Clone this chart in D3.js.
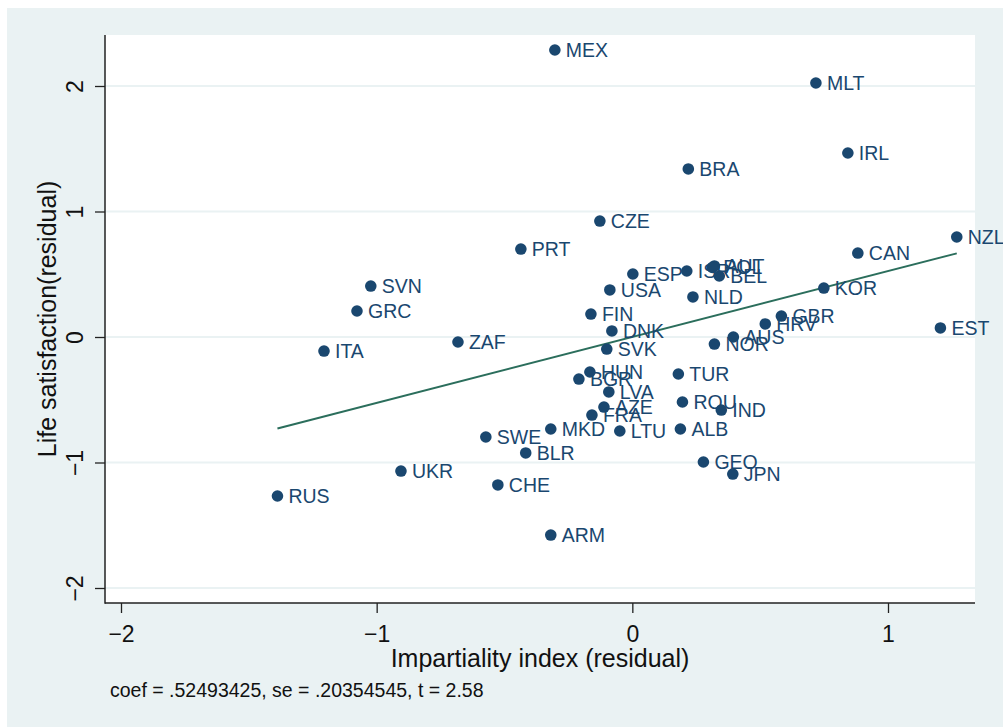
<!DOCTYPE html>
<html>
<head>
<meta charset="utf-8">
<script src="https://cdn.jsdelivr.net/npm/d3@7"></script>
<style>
  html, body { margin: 0; padding: 0; background: #ffffff; }
  svg { display: block; }
  text { font-family: "Liberation Sans", Arial, Helvetica, sans-serif; }
</style>
</head>
<body>
<svg id="chart" width="1003" height="727"></svg>
<script>
const countries = ["MEX","MLT","IRL","BRA","CZE","PRT","CAN","NZL","ESP","ISR","AUT","POL","BEL",
  "SVN","GRC","USA","NLD","KOR","FIN","GBR","HRV","AUS","NOR","DNK","EST","ZAF","ITA","SVK",
  "HUN","BGR","TUR","LVA","ROU","IND","AZE","FRA","MKD","LTU","ALB","SWE","BLR","UKR","CHE",
  "GEO","JPN","RUS","ARM"];
const impartiality = [-0.303, 0.718, 0.843, 0.219, -0.127, -0.436, 0.882, 1.269, 0.002, 0.213, 0.321, 0.313, 0.340,
  -1.023, -1.077, -0.088, 0.237, 0.749, -0.162, 0.583, 0.520, 0.395, 0.321, -0.080, 1.205, -0.682, -1.206, -0.100,
  -0.166, -0.209, 0.180, -0.092, 0.196, 0.348, -0.111, -0.158, -0.319, -0.049, 0.188, -0.573, -0.417, -0.905, -0.526,
  0.278, 0.393, -1.388, -0.319];
const lifeSatisfaction = [2.287, 2.024, 1.466, 1.339, 0.924, 0.701, 0.669, 0.797, 0.502, 0.526, 0.566, 0.554, 0.486,
  0.406, 0.207, 0.375, 0.319, 0.390, 0.183, 0.167, 0.104, 0.000, -0.056, 0.048, 0.072, -0.040, -0.112, -0.096,
  -0.279, -0.335, -0.295, -0.438, -0.518, -0.582, -0.558, -0.622, -0.733, -0.749, -0.733, -0.797, -0.924, -1.068, -1.179,
  -0.996, -1.092, -1.267, -1.578];
const xTicks = [-2, -1, 0, 1];
const yTicks = [-2, -1, 0, 1, 2];
const coef = 0.52493425;
const intercept = 0.0;
const noteText = "coef = .52493425, se = .20354545, t = 2.58";
const xTitle = "Impartiality index (residual)";
const yTitle = "Life satisfaction(residual)";

const svg = d3.select("#chart");
const W = 1003, H = 727;
const plot = {left: 105, right: 975, top: 35, bottom: 603};

const x = d3.scaleLinear().domain([-2, 1]).range([121, 888]);
const y = d3.scaleLinear().domain([-2, 2]).range([588, 86]);

const bg = "#eaf2f3";
const navy = "#1a476f";
const fitColor = "#2b6e5c";

svg.append("rect").attr("x", 7).attr("y", 8).attr("width", W - 7).attr("height", H - 8).attr("fill", bg);
svg.append("rect").attr("x", plot.left).attr("y", plot.top)
  .attr("width", plot.right - plot.left).attr("height", plot.bottom - plot.top).attr("fill", "#ffffff");

// gridlines
svg.append("g").selectAll("line").data(yTicks).join("line")
  .attr("x1", plot.left).attr("x2", plot.right)
  .attr("y1", d => y(d)).attr("y2", d => y(d))
  .attr("stroke", bg).attr("stroke-width", 2);

// fit line
const xr = d3.extent(impartiality);
svg.append("line")
  .attr("x1", x(xr[0])).attr("y1", y(intercept + coef * xr[0]))
  .attr("x2", x(xr[1])).attr("y2", y(intercept + coef * xr[1]))
  .attr("stroke", fitColor).attr("stroke-width", 2);

// points
const pts = countries.map((c, i) => ({c, x: impartiality[i], y: lifeSatisfaction[i]}));
svg.append("g").selectAll("circle").data(pts).join("circle")
  .attr("cx", d => x(d.x)).attr("cy", d => y(d.y)).attr("r", 5.8).attr("fill", navy);
svg.append("g").selectAll("text").data(pts).join("text")
  .attr("x", d => x(d.x) + 11).attr("y", d => y(d.y) + 7)
  .attr("font-size", 19.5).attr("fill", navy).text(d => d.c);

// axes
const yAxis = d3.axisLeft(y).tickValues(yTicks).tickSize(10).tickFormat(d3.format("d"));
const gy = svg.append("g").attr("transform", `translate(${plot.left},0)`).call(yAxis);
gy.select(".domain").remove();
gy.selectAll(".tick line").attr("stroke", "#222").attr("stroke-width", 1.3);
gy.selectAll(".tick text").remove();
gy.selectAll(".tick").append("text")
  .attr("transform", "translate(-22,0) rotate(-90)")
  .attr("text-anchor", "middle").attr("fill", "#111").attr("font-size", 23)
  .text(d => d3.format("d")(d));

const xAxis = d3.axisBottom(x).tickValues(xTicks).tickSize(10).tickFormat(d3.format("d"));
const gx = svg.append("g").attr("transform", `translate(0,${plot.bottom})`).call(xAxis);
gx.select(".domain").remove();
gx.selectAll(".tick line").attr("stroke", "#222").attr("stroke-width", 1.3);
gx.selectAll(".tick text").attr("font-size", 23).attr("fill", "#111").attr("dy", null).attr("y", 39);

svg.append("line").attr("x1", plot.left).attr("x2", plot.left).attr("y1", plot.top).attr("y2", plot.bottom + 0.7)
  .attr("stroke", "#222").attr("stroke-width", 1.5);
svg.append("line").attr("x1", plot.left).attr("x2", plot.right).attr("y1", plot.bottom).attr("y2", plot.bottom)
  .attr("stroke", "#222").attr("stroke-width", 1.5);

// titles
svg.append("text").attr("x", (plot.left + plot.right) / 2).attr("y", 667)
  .attr("text-anchor", "middle").attr("font-size", 25).attr("fill", "#111").text(xTitle);
svg.append("text").attr("transform", `translate(56,${(plot.top + plot.bottom) / 2}) rotate(-90)`)
  .attr("text-anchor", "middle").attr("font-size", 25).attr("fill", "#111").text(yTitle);
svg.append("text").attr("x", 110).attr("y", 697)
  .attr("font-size", 19.5).attr("fill", "#111").text(noteText);
</script>
</body>
</html>
